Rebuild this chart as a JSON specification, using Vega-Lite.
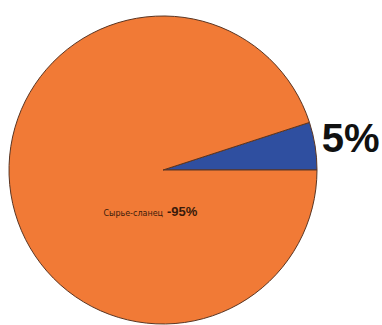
{
  "$schema": "https://vega.github.io/schema/vega-lite/v6.json",
  "width": 326,
  "height": 340,
  "padding": {"left": 0, "top": 0, "right": 56, "bottom": 0},
  "autosize": "none",
  "background": "white",
  "view": {"stroke": null},
  "data": {"values": [
    {"part": "Прочее", "share": 5, "label": "5%", "ord": 1},
    {"part": "Сырье-сланец", "share": 95, "label": "-95%", "ord": 2}
  ]},
  "encoding": {
    "theta": {"field": "share", "type": "quantitative", "stack": true, "scale": {"range": [1.2566, 7.5398]}},
    "order": {"field": "ord", "type": "quantitative"}
  },
  "layer": [
    {
      "mark": {"type": "arc", "outerRadius": 154, "stroke": "#5a3522", "strokeWidth": 1},
      "encoding": {
        "color": {"field": "part", "type": "nominal", "legend": null,
          "scale": {"domain": ["Прочее", "Сырье-сланец"], "range": ["#2f4fa0", "#f17a36"]}}
      }
    },
    {
      "transform": [{"filter": "datum.ord == 1"}],
      "mark": {"type": "text", "radius": 190, "font": "Liberation Sans", "fontWeight": "bold", "fontSize": 40, "fill": "#111", "align": "center", "baseline": "middle"},
      "encoding": {"text": {"field": "label"}}
    },
    {
      "transform": [{"filter": "datum.ord == 2"}],
      "mark": {"type": "text", "radius": 0, "dx": 4, "dy": 42, "font": "Liberation Sans", "fontWeight": "bold", "fontSize": 13, "fill": "#3a1a0a", "align": "left", "baseline": "middle"},
      "encoding": {"text": {"field": "label"}}
    },
    {
      "transform": [{"filter": "datum.ord == 2"}],
      "mark": {"type": "text", "radius": 0, "dx": 0, "dy": 44, "font": "DejaVu Sans", "fontSize": 8, "fill": "#3a1a0a", "align": "right", "baseline": "middle"},
      "encoding": {"text": {"field": "part"}}
    }
  ]
}
